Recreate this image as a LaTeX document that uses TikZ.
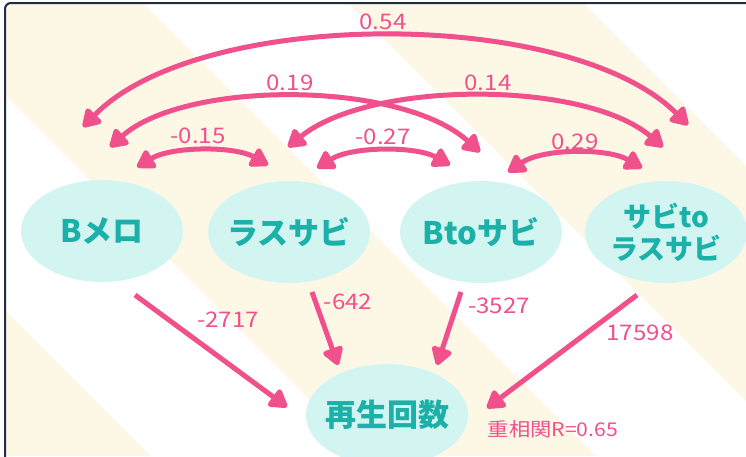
\documentclass[tikz,border=0pt]{standalone}
\usepackage{fontspec}
\setmainfont{Noto Sans CJK JP}
\newfontfamily\labfont[FakeStretch=1.12]{Noto Sans CJK JP}
\usetikzlibrary{arrows.meta,shapes.geometric}
\definecolor{pinkc}{HTML}{F0508C}
\definecolor{tealc}{HTML}{1BB1A8}
\definecolor{nodefill}{HTML}{D3F5F2}
\definecolor{cream}{HTML}{FDF8E6}
\definecolor{framec}{HTML}{1E2D44}
\tikzset{
  var/.style={shape=ellipse, fill=nodefill, minimum width=162pt, minimum height=102pt,
    inner sep=-12pt, text=tealc, font=\fontsize{31}{33}\selectfont\bfseries, align=center},
  lab/.style={text=pinkc, font=\labfont\fontsize{21.5}{24}\selectfont, inner sep=0pt},
  corr/.style={draw=pinkc, line width=5pt,
    {Triangle[length=20pt,width=23pt,round]}-{Triangle[length=20pt,width=23pt,round]}},
  reg/.style={draw=pinkc, line width=5pt, -{Triangle[length=20pt,width=23pt,round]}}
}
\begin{document}
\begin{tikzpicture}[x=1pt,y=-1pt]
\clip (0,0) rectangle (746,456);
\fill[white] (0,0) rectangle (746,456);
\begin{scope}
  \clip (5,3) rectangle (746,456);
  \foreach \sa/\sb in {-540/-305,-90/140,345/580}{
    \fill[cream] (\sa,0) -- (\sb,0) -- ({\sb+456},456) -- ({\sa+456},456) -- cycle;
  }
\end{scope}
\draw[framec, line width=2pt, rounded corners=6pt] (5,3) rectangle (800,500);

% variables
\node[var] (bm) at (102,231) {Bメロ};
\node[var] (rs) at (289,232) {ラスサビ};
\node[var] (bs) at (481,232) {Btoサビ};
\node[var, font=\fontsize{28}{32}\selectfont\bfseries] (sr) at (666,232) {サビto\\ラスサビ};
\node[var] (out) at (387,415) {再生回数};

% endpoints of correlation curves
\coordinate (a1) at (83,127);  \coordinate (b1) at (688,125);
\coordinate (a2) at (110,147); \coordinate (b2) at (480,152);
\coordinate (a3) at (288,147); \coordinate (b3) at (663,147);
\coordinate (a4) at (137,167); \coordinate (b4) at (268,165);
\coordinate (a5) at (317,168); \coordinate (b5) at (450,165);
\coordinate (a6) at (508,172); \coordinate (b6) at (642,168);

\draw[corr] (a1) .. controls (200,7) and (570,7) .. (b1);
\draw[corr] (a2) .. controls (185,80) and (400,80) .. (b2);
\draw[corr] (a3) .. controls (370,80) and (585,80) .. (b3);
\draw[corr] (a4) .. controls (172,146) and (235,146) .. (b4);
\draw[corr] (a5) .. controls (352,146) and (416,146) .. (b5);
\draw[corr] (a6) .. controls (543,148) and (608,148) .. (b6);

\node[lab] (l1) at (383,22) {0.54};
\node[lab] (l2) at (290,83) {0.19};
\node[lab] (l3) at (488,83) {0.14};
\node[lab] (l4) at (198,136) {-0.15};
\node[lab] (l5) at (383,137) {-0.27};
\node[lab] (l6) at (575,142) {0.29};

% regression arrows
\coordinate (s1) at (135,295); \coordinate (t1) at (287,407);
\coordinate (s2) at (312,292); \coordinate (t2) at (338,365);
\coordinate (s3) at (461,292); \coordinate (t3) at (437,365);
\coordinate (s4) at (637,295); \coordinate (t4) at (487,408);
\draw[reg] (s1) -- (t1);
\draw[reg] (s2) -- (t2);
\draw[reg] (s3) -- (t3);
\draw[reg] (s4) -- (t4);

\node[lab] (r1) at (228,320) {-2717};
\node[lab] (r2) at (348,302) {-642};
\node[lab] (r3) at (499,306) {-3527};
\node[lab] (r4) at (640,333) {17598};
\node[lab, font=\labfont\fontsize{19}{22}\selectfont] (rr) at (553,429) {重相関R=0.65};
\end{tikzpicture}
\end{document}
